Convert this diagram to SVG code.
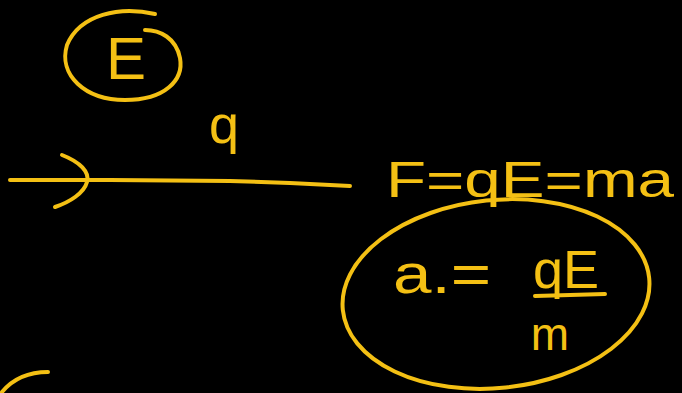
<svg xmlns="http://www.w3.org/2000/svg" width="682" height="393" viewBox="0 0 682 393">
<style>
.s{fill:none;stroke:#F4C014;stroke-width:4;stroke-linecap:round;stroke-linejoin:round}
.t{fill:#F4C014;font-family:"Liberation Sans","DejaVu Sans",sans-serif}
</style>
<rect width="682" height="393" fill="#000"/>
<g id="circle-E">
<path class="s" d="M155,14 C120,6 80,14 67,45 C58,75 85,100 125,100 C165,100 184,80 180,58 C176,38 160,30 145,30"/>
<text class="t" x="126" y="79" font-size="60" text-anchor="middle">E</text>
</g>
<g id="line-q">
<path class="s" d="M10,180 L110,180 L230,181 L290,183 L350,186"/>
<path class="s" d="M62,155 C80,162 90,172 87,182 C84,193 70,202 55,207"/>
<text class="t" x="224" y="143" font-size="54" text-anchor="middle">q</text>
</g>
<g id="eq1">
<text class="t" x="386" y="197" font-size="50" textLength="288" lengthAdjust="spacingAndGlyphs">F=qE=ma</text>
</g>
<g id="ellipse-a">
<ellipse class="s" cx="496" cy="294" rx="154" ry="94" transform="rotate(-6 496 294)"/>
<text class="t" x="393" y="293" font-size="56" textLength="98" lengthAdjust="spacingAndGlyphs">a.=</text>
<text class="t" x="566" y="288" font-size="54" text-anchor="middle">qE</text>
<path class="s" d="M535,296 L605,294"/>
<text class="t" x="550" y="350" font-size="46" text-anchor="middle">m</text>
</g>
<g id="arc-bl">
<path class="s" d="M2,392 C12,380 28,372 48,372"/>
</g>
</svg>
